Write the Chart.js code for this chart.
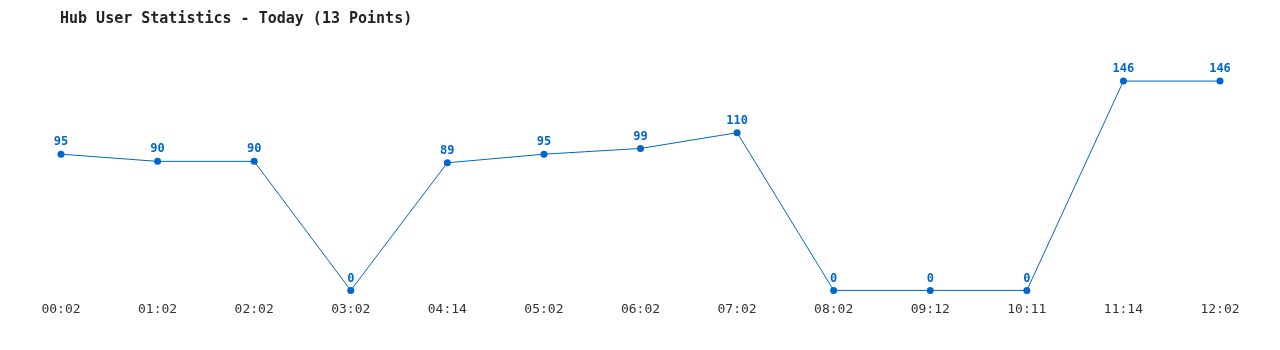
<!DOCTYPE html>
<html>
<head>
<meta charset="utf-8">
<script src="https://cdn.jsdelivr.net/npm/chart.js@4"></script>
<style>
  html, body { margin: 0; padding: 0; background: #fff; }
  #wrap { width: 1280px; height: 350px; position: relative; }
</style>
</head>
<body>
<div id="wrap"><canvas id="hubchart"></canvas></div>
<script>
// data
const times = ['00:02', '01:02', '02:02', '03:02', '04:14', '05:02', '06:02',
  '07:02', '08:02', '09:12', '10:11', '11:14', '12:02'];
const users = [95, 90, 90, 0, 89, 95, 99, 110, 0, 0, 0, 146, 146];
const chartTitle = 'Hub User Statistics - Today (13 Points)';

const blue = '#0066cc';

// title + value labels drawn on the canvas
const labelsPlugin = {
  id: 'labels',
  afterDatasetsDraw(chart) {
    const ctx = chart.ctx;
    ctx.save();
    ctx.font = 'bold 15px "DejaVu Sans Mono"';
    ctx.fillStyle = '#222';
    ctx.textAlign = 'left';
    ctx.textBaseline = 'middle';
    ctx.fillText(chartTitle, 60, 19);

    ctx.font = 'bold 12px "DejaVu Sans Mono"';
    ctx.fillStyle = blue;
    ctx.textAlign = 'center';
    const meta = chart.getDatasetMeta(0);
    meta.data.forEach((pt, i) => {
      ctx.fillText(String(users[i]), pt.x, pt.y - 12);
    });
    ctx.restore();
  }
};

const hubchart = document.getElementById('hubchart').getContext('2d');
const mychart = new Chart(hubchart, {
  type: 'line',
  data: {
    labels: times,
    datasets: [{
      data: users,
      borderColor: blue,
      backgroundColor: blue,
      borderWidth: 1,
      pointRadius: 3.5,
      pointBackgroundColor: blue,
      pointBorderWidth: 0,
      tension: 0,
      clip: false
    }]
  },
  options: {
    responsive: true,
    maintainAspectRatio: false,
    animation: false,
    layout: { padding: { left: 61, right: 60, top: 61, bottom: 22 } },
    plugins: {
      legend: { display: false },
      tooltip: { enabled: false }
    },
    scales: {
      x: {
        offset: false,
        grid: { display: false, drawTicks: false },
        border: { display: false },
        ticks: {
          color: '#333',
          font: { family: 'DejaVu Sans Mono', size: 13 },
          padding: 11,
          maxRotation: 0,
          autoSkip: false
        }
      },
      y: {
        display: false,
        min: 0,
        max: 160
      }
    }
  },
  plugins: [labelsPlugin]
});
</script>
</body>
</html>
